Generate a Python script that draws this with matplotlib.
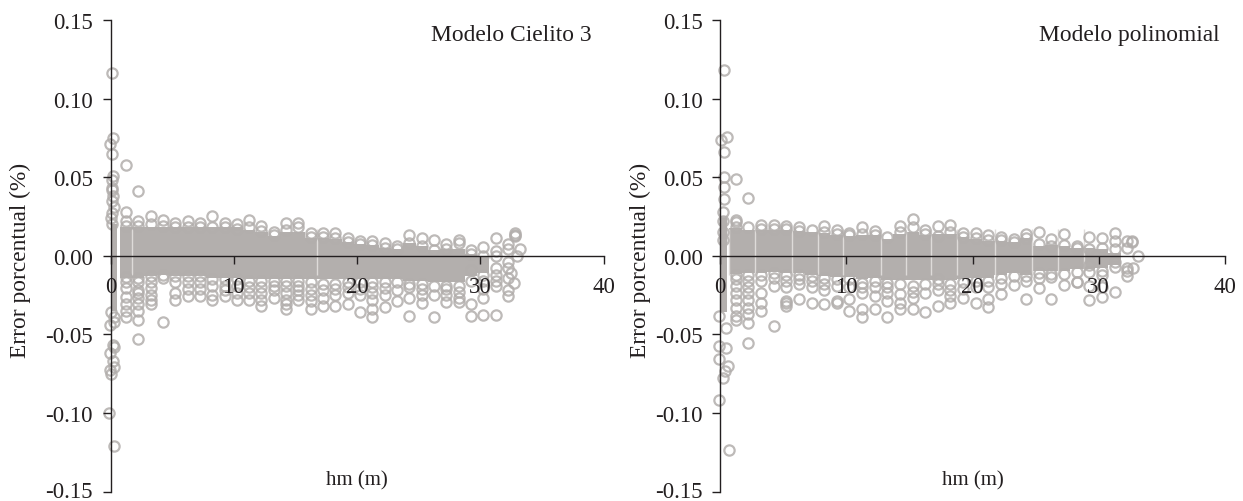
import matplotlib
matplotlib.use('Agg')
import matplotlib.pyplot as plt
from matplotlib.transforms import ScaledTranslation

plt.rcParams['font.family'] = ['Liberation Serif', 'DejaVu Serif']

W = 1243.0
H = 502.0
inkCol = '#231f20'
blockCol = '#b3afad'
ringCol = '#b2aeac'
bigFont = 16.5

yTicks = [-0.15, -0.10, -0.05, 0.0, 0.05, 0.10, 0.15]
yTickLabels = ['-0.15', '-0.10', '-0.05', '0.00', '0.05', '0.10', '0.15']
xTicks = [0, 10, 20, 30, 40]

# left panel, dense part of each column (hm = n + 0.25)
leftX = [n + 0.25 for n in range(1, 31)]
leftHi = [.018, .018, .018, .018, .018, .018, .018, .018, .018, .018,
          .0165, .015, .0125, .015, .015, .0115, .0115, .0105, .009, .0075,
          .007, .005, .0045, .008, .006, .0035, .004, .004, .001, .0]
leftLo = [-.014, -.014, -.013, -.012, -.013, -.013, -.013, -.014, -.014, -.014,
          -.015, -.015, -.015, -.015, -.015, -.015, -.015, -.015, -.015, -.015,
          -.015, -.015, -.015, -.016, -.016, -.017, -.017, -.017, -.013, -.011]
leftZeroBlock = [-.035, .02]
leftGaps = [1.76, 16.75]

# left panel, open circles of each column (n + 0.25, n = 1..)
leftRings = [
    [.058, .028, .022, .019, -.0135, -.0165, -.0204, -.026, -.031, -.0354, -.039],
    [.041, .022, .019, -.014, -.017, -.0215, -.024, -.027, -.031, -.035, -.041, -.0528],
    [.025, .02, -.013, -.0165, -.0204, -.0247, -.028, -.031],
    [.023, .019, -.012, -.014, -.0423],
    [.021, .018, -.013, -.017, -.0238, -.028],
    [.022, .018, -.013, -.017, -.021, -.0253],
    [.021, .018, -.013, -.017, -.021, -.0253],
    [.025, .018, -.015, -.019, -.0247, -.028],
    [.021, .018, -.015, -.019, -.022, -.0257],
    [.020, .017, -.015, -.019, -.0238, -.028],
    [.023, .018, -.016, -.02, -.024, -.028],
    [.019, .016, -.016, -.02, -.024, -.028, -.032],
    [.015, .013, -.016, -.019, -.022, -.027],
    [.021, .0165, -.016, -.019, -.024, -.028, -.031, -.034],
    [.021, .018, -.016, -.019, -.022, -.025, -.028],
    [.0146, .012, -.017, -.021, -.025, -.0286, -.034],
    [.0146, .012, -.018, -.022, -.027, -.032],
    [.0146, .011, -.018, -.021, -.0247, -.032],
    [.0115, .009, -.017, -.02, -.024, -.0305],
    [.0093, .0075, -.017, -.021, -.0247, -.036],
    [.0093, .007, -.017, -.02, -.024, -.028, -.034, -.039],
    [.008, .005, -.017, -.0205, -.0247, -.0325],
    [.0065, .0045, -.017, -.022, -.0285],
    [.0129, .008, -.018, -.02, -.027, -.0385],
    [.0112, .006, -.018, -.021, -.025, -.03],
    [.01, .0035, -.019, -.0247, -.039],
    [.0075, .004, -.019, -.021, -.025, -.0295],
    [.01, .008, -.019, -.023, -.027, -.0295],
    [.0036, .001, -.009, -.016, -.0305, -.0385],
    [.0057, .0, -.012, -.016, -.021, -.027, -.038],
    [.0112, .003, -.0, -.008, -.012, -.016, -.0195, -.0375],
    [.0075, .0045, -.004, -.008, -.014, -.022, -.0255],
]
# circles stuck to the axis and at the far end of the left panel
leftExtraX = [.15, .2, -.05, .1, .2, .15, .1, .12, .1, .1, .1, .25, .05, .2,
              -.05, .3, .2, .3, -.05, .2, .3, -.05, .05, .05, -.1, .3, .3,
              32.8, 32.8, 32.85, 33.2, 32.75, 33.0, 32.5]
leftExtraY = [.116, .075, .071, .065, .051, .048, .043, .042, .035, .027, .02, .031, .024, .038,
              -.044, -.042, -.057, -.058, -.062, -.067, -.071, -.073, -.075, -.036, -.1, -.121, -.039,
              .0146, .0135, .0125, .0045, -.0175, .0, -.011]

# right panel
rightX = [n + 0.24 for n in range(1, 32)]
rightHi = [.0175, .0165, .0165, .0165, .0165, .016, .015, .0145, .0135, .0125,
           .0135, .013, .0105, .014, .015, .0135, .014, .014, .012, .0105,
           .0095, .0095, .0085, .011, .0065, .007, .0065, .005, .005, .004, .002]
rightLo = [-.0115, -.011, -.011, -.0105, -.011, -.011, -.012, -.013, -.0135, -.0135,
           -.0145, -.014, -.0155, -.0155, -.0155, -.0155, -.0155, -.0155, -.015, -.014,
           -.014, -.012, -.011, -.012, -.0095, -.0095, -.0095, -.0085, -.0085, -.008, -.006]
rightZeroBlock = [-.036, .024]
rightGaps = [.74, 2.74, 5.74, 7.76, 9.74, 12.76, 14.74, 16.74, 18.8, 21.8, 24.75, 26.8, 28.8]

rightRings = [
    [.049, .023, .0215, .018, -.012, -.015, -.019, -.0235, -.028, -.033, -.0385, -.041],
    [.037, .018, -.012, -.016, -.02, -.024, -.028, -.033, -.037, -.0425, -.0553],
    [.0195, .017, -.012, -.016, -.0235, -.03, -.035],
    [.0195, .017, -.011, -.014, -.019, -.0448],
    [.019, .017, -.012, -.016, -.02, -.0285, -.032, -.03],
    [.018, .016, -.012, -.015, -.018, -.0275],
    [.0165, -.013, -.016, -.02, -.03],
    [.019, .015, -.014, -.018, -.022, -.031],
    [.0165, .014, -.015, -.019, -.0285, -.03],
    [.0146, .013, -.015, -.02, -.0278, -.0353],
    [.018, .014, -.0175, -.02, -.024, -.034, -.039],
    [.0156, .013, -.016, -.02, -.0257, -.034],
    [.012, -.0175, -.02, -.0235, -.029, -.039],
    [.0188, .015, -.018, -.0245, -.03, -.034],
    [.0231, .018, -.0195, -.023, -.0271, -.034],
    [.0163, .014, -.018, -.0235, -.036],
    [.0188, .0125, -.015, -.018, -.0215, -.0321],
    [.0193, .015, -.018, -.022, -.0255, -.0303],
    [.0146, .012, -.017, -.021, -.0268],
    [.0142, .011, -.016, -.02, -.0303],
    [.0129, .01, -.016, -.02, -.0275, -.0323],
    [.0121, .01, -.014, -.018, -.0246],
    [.0104, .009, -.013, -.0183],
    [.0136, .011, -.013, -.016, -.0278],
    [.0151, .0072, -.011, -.014, -.0204],
    [.0104, .006, -.0115, -.0135, -.0274],
    [.0136, .007, -.0115, -.0183],
    [.0061, .005, -.0105, -.017, -.0165],
    [.0121, .004, -.006, -.0105, -.0193, -.0283],
    [.0115, .005, -.01, -.0125, -.0197, -.0262],
    [.0146, .0093, .004, -.004, -.007, -.023],
    [.0093, .005, -.0075, -.013, -.01],
]
rightExtraX = [.35, .55, .1, .3, .3, .3, .3, .25, .25, .25, .25,
               -.1, .5, -.05, .5, -.05, .6, .4, .2, -.05, .75,
               32.6, 32.65, 32.7, 33.1]
rightExtraY = [.118, .0753, .0735, .066, .05, .044, .036, .028, .022, .015, .01,
               -.0385, -.0457, -.0576, -.059, -.066, -.07, -.0735, -.0777, -.092, -.1234,
               .0093, .0085, -.0077, -.0002]


def draw_panel(ax, colX, colHi, colLo, zeroBlock, gaps, rings, extraX, extraY, title, titleX):
    ax.bar(colX, [h - l for h, l in zip(colHi, colLo)], bottom=colLo, width=1.0,
           color=blockCol, linewidth=0, zorder=1)
    ax.bar([0.05], [zeroBlock[1] - zeroBlock[0]], bottom=[zeroBlock[0]], width=0.95,
           color=blockCol, linewidth=0, zorder=1)
    ax.vlines(gaps, -.012, .017, color='#dedbd9', linewidth=1.0, zorder=1.2)
    for i in range(len(rings)):
        ax.plot([i + 1.25] * len(rings[i]), rings[i], 'o', mfc='none', mec=ringCol, ms=7.4,
                mew=1.6, alpha=0.85, clip_on=False, zorder=2)
    ax.plot(extraX, extraY, 'o', mfc='none', mec=ringCol, ms=7.4, mew=1.6, alpha=0.85,
            clip_on=False, zorder=2)
    ax.set_xlim(0, 40)
    ax.set_ylim(-0.1505, 0.15)
    ax.set_axisbelow(False)
    ax.spines['top'].set_visible(False)
    ax.spines['right'].set_visible(False)
    ax.spines['left'].set_color(inkCol)
    ax.spines['bottom'].set_color(inkCol)
    ax.spines['left'].set_linewidth(1.0)
    ax.spines['bottom'].set_linewidth(1.0)
    ax.spines['bottom'].set_position(('data', 0.0))
    ax.spines['left'].set_bounds(-0.15, 0.15)
    ax.set_xticks(xTicks)
    ax.set_yticks(yTicks)
    ax.set_yticklabels(yTickLabels)
    ax.tick_params(axis='x', length=5.6, width=1.0, color=inkCol, labelcolor=inkCol,
                   labelsize=bigFont, pad=9)
    ax.tick_params(axis='y', length=5.6, width=1.0, color=inkCol, labelcolor=inkCol,
                   labelsize=bigFont, pad=7)
    # keep the lowest label inside the picture
    lowLabel = ax.get_yticklabels()[0]
    lowLabel.set_transform(lowLabel.get_transform() + ScaledTranslation(0, 0.03, fig.dpi_scale_trans))
    ax.patch.set_alpha(0)
    ax.text(titleX, 0.1405, title, fontsize=16.9, color=inkCol, ha='right', va='center')
    ax.text(20.0, -0.1425, 'hm (m)', fontsize=15, color=inkCol, ha='center', va='center')


fig = plt.figure(figsize=(W / 100, H / 100), dpi=100)
axL = fig.add_axes([110.5 / W, 1 - 493.3 / H, 493.0 / W, 472.3 / H])
axR = fig.add_axes([720.0 / W, 1 - 493.3 / H, 505.0 / W, 472.3 / H])

draw_panel(axL, leftX, leftHi, leftLo, leftZeroBlock, leftGaps, leftRings, leftExtraX, leftExtraY,
           'Modelo Cielito 3', 39.0)
draw_panel(axR, rightX, rightHi, rightLo, rightZeroBlock, rightGaps, rightRings, rightExtraX, rightExtraY,
           'Modelo polinomial', 39.55)

fig.text(20 / W, 1 - 260 / H, 'Error porcentual (%)', rotation='vertical', fontsize=16.8,
         color=inkCol, ha='center', va='center')
fig.text(640 / W, 1 - 260 / H, 'Error porcentual (%)', rotation='vertical', fontsize=16.8,
         color=inkCol, ha='center', va='center')

fig.savefig('out.png', dpi=100)
